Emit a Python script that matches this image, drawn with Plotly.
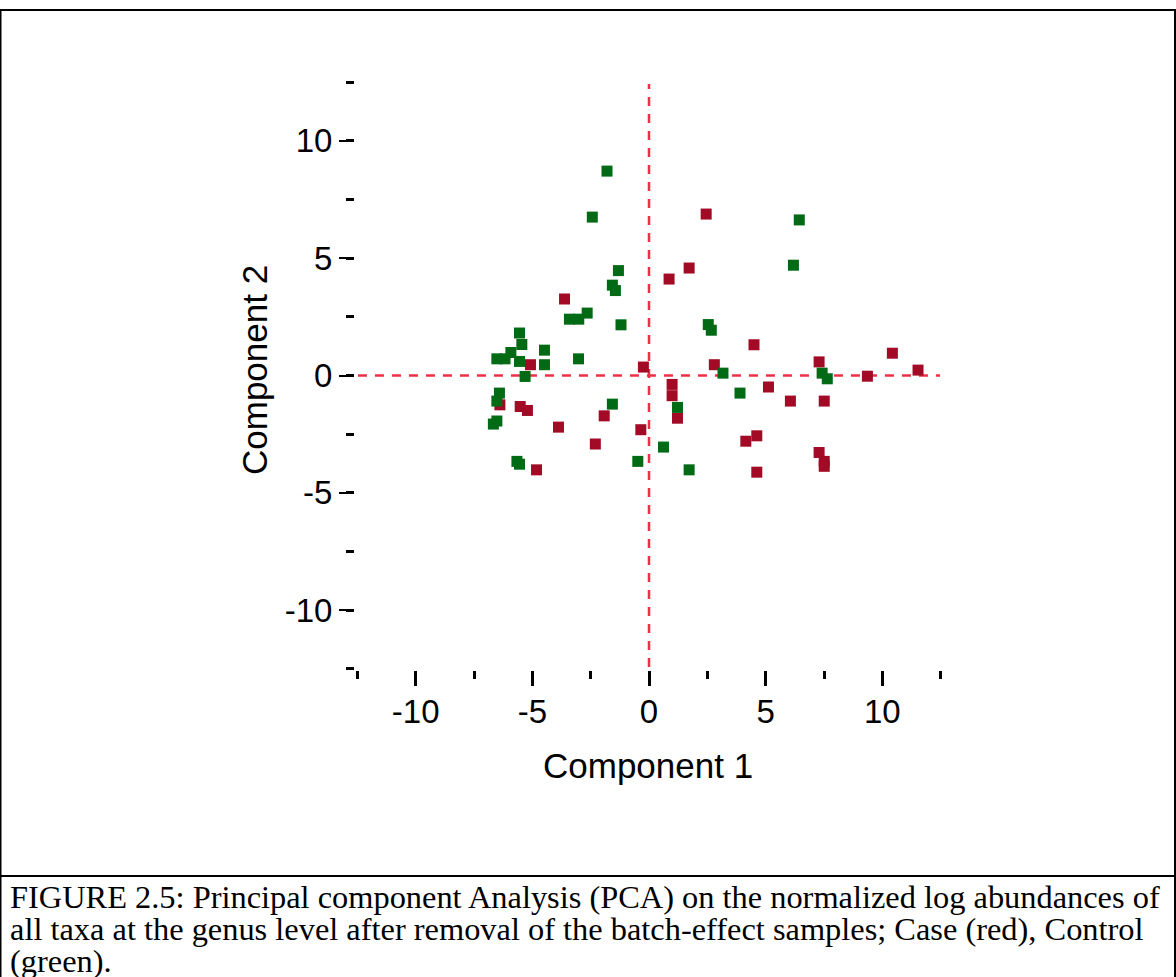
import plotly.graph_objects as go

# ---------------- data ----------------
case_x = [2.45, 1.72, 0.86, -3.62, 4.50, 10.43, 2.80, 7.29, 9.36, 11.53,
          -5.08, -0.24, 0.99, 0.99, 1.22, 5.12, 6.06, 7.51, 4.62, 4.15,
          7.29, 7.51, 7.51, 4.62, -6.39, -5.52, -5.21, -3.88, -1.92, -0.35,
          -2.30, -4.82]
case_y = [6.88, 4.58, 4.11, 3.26, 1.31, 0.95, 0.46, 0.58, -0.03, 0.23,
          0.46, 0.36, -0.38, -0.86, -1.82, -0.49, -1.09, -1.09, -2.57, -2.80,
          -3.28, -3.66, -3.87, -4.12, -1.25, -1.32, -1.49, -2.20, -1.72, -2.31,
          -2.92, -4.02]

control_x = [-1.80, -2.43, -1.31, -1.57, -1.44, -2.65, -3.41, -3.01, -1.20, -5.55,
             -5.45, -5.92, -4.48, -6.52, -6.17, -5.55, -4.48, -3.02, -5.31, -6.41,
             -6.52, -6.67, -6.52, -1.57, 0.62, -5.66, -5.55, -0.48, 6.44, 6.19,
             2.54, 2.67, 3.17, 7.42, 7.64, 1.22, 3.90, 1.72]
control_y = [8.71, 6.75, 4.47, 3.85, 3.62, 2.66, 2.40, 2.40, 2.16, 1.81,
             1.32, 0.98, 1.08, 0.71, 0.71, 0.60, 0.46, 0.71, -0.04, -0.75,
             -1.09, -2.07, -1.94, -1.22, -3.05, -3.66, -3.78, -3.66, 6.63, 4.70,
             2.17, 1.93, 0.10, 0.10, -0.14, -1.36, -0.75, -4.02]

tick_vals = [-10, -5, 0, 5, 10]
tick_labels = ["-10", "-5", "0", "5", "10"]

x_title = "Component 1"
y_title = "Component 2"
caption_lines = [
    "FIGURE 2.5: Principal component Analysis (PCA) on the normalized log abundances of",
    "all taxa at the genus level after removal of the batch-effect samples; Case (red), Control",
    "(green).",
]

# ---------------- layout geometry ----------------
W, H = 1176, 977
L, R, T, B = 355, 233, 81, 307
PW, PH = W - L - R, H - T - B


def fx(px):
    return (px - L) / PW


def fy(py):
    return (H - B - py) / PH


RED = "#A20A26"
GREEN = "#006A14"
DASH = "#EE3046"

fig = go.Figure()
fig.add_trace(go.Scatter(x=case_x, y=case_y, mode="markers", name="Case",
                         marker=dict(symbol="square", size=11, color=RED, line=dict(width=0))))
fig.add_trace(go.Scatter(x=control_x, y=control_y, mode="markers", name="Control",
                         marker=dict(symbol="square", size=11, color=GREEN, line=dict(width=0))))

axis_common = dict(
    tickmode="array", tickvals=tick_vals, ticktext=tick_labels,
    ticks="outside", ticklen=15, tickcolor="black",
    showgrid=False, zeroline=False, showline=False,
    tickfont=dict(family="Liberation Sans, Arial", size=33, color="black"),
    minor=dict(dtick=2.5, tick0=0, ticks="outside", ticklen=8, tickcolor="black", tickwidth=3),
)
fig.update_xaxes(range=[-12.6, 12.6], tickwidth=3, ticklabelstandoff=-3, **axis_common)
fig.update_yaxes(range=[-12.55, 12.55], tickwidth=2, **axis_common)

shapes = [
    # dashed reference lines through the origin
    dict(type="line", xref="paper", yref="y", x0=0.005, x1=0.995, y0=0, y1=0,
         line=dict(color=DASH, width=2.5, dash="9px,8px"), layer="below"),
    dict(type="line", xref="x", yref="paper", x0=0, x1=0, y0=0.005, y1=0.995,
         line=dict(color=DASH, width=2.5, dash="9px,8px"), layer="below"),
    # outer frame and caption separator
    dict(type="rect", xref="paper", yref="paper", x0=fx(0.5), x1=fx(1175), y0=fy(985), y1=fy(10),
         line=dict(color="black", width=2), fillcolor="rgba(0,0,0,0)"),
    dict(type="line", xref="paper", yref="paper", x0=fx(0), x1=fx(1176), y0=fy(876), y1=fy(876),
         line=dict(color="black", width=2)),
]

annotations = [
    dict(text=x_title, xref="paper", yref="paper", x=fx(648), y=fy(765), showarrow=False,
         xanchor="center", yanchor="middle",
         font=dict(family="Liberation Sans, Arial", size=35, color="black")),
    dict(text=y_title, xref="paper", yref="paper", x=fx(254), y=fy(370), showarrow=False,
         xanchor="center", yanchor="middle", textangle=-90,
         font=dict(family="Liberation Sans, Arial", size=35, color="black")),
]
for i, line in enumerate(caption_lines):
    annotations.append(dict(text=line, xref="paper", yref="paper", x=fx(8), y=fy(897 + 32 * i),
                            showarrow=False, xanchor="left", yanchor="middle",
                            font=dict(family="Liberation Serif, Times New Roman", size=32.4,
                                      color="black")))

fig.update_layout(
    width=W, height=H,
    margin=dict(l=L, r=R, t=T, b=B, pad=0),
    paper_bgcolor="white", plot_bgcolor="white",
    showlegend=False,
    shapes=shapes, annotations=annotations,
)

fig.write_html("out.html")
